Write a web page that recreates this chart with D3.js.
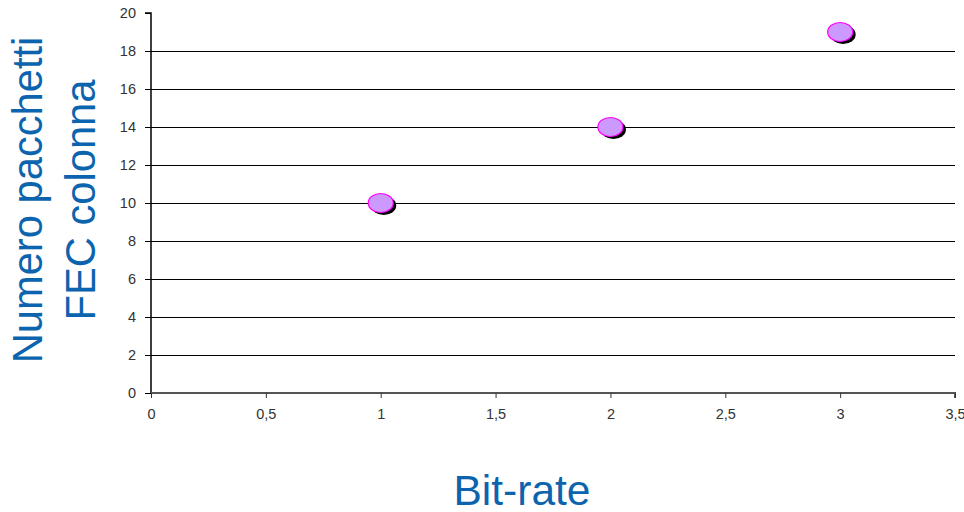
<!DOCTYPE html>
<html><head><meta charset="utf-8">
<script src="https://cdn.jsdelivr.net/npm/d3@7"></script>
<style>body{margin:0;background:#fff;}svg{display:block;}</style>
</head><body>
<svg id="c" width="964" height="512"></svg>
<script>
const bitRate = [1, 2, 3];
const fecPackets = [10, 14, 19];
const xTicks = [0, 0.5, 1, 1.5, 2, 2.5, 3, 3.5];
const yTicks = [0, 2, 4, 6, 8, 10, 12, 14, 16, 18, 20];
const xTitle = "Bit-rate";
const yTitle = ["Numero pacchetti", "FEC colonna"];

const svg = d3.select("#c");
const x = d3.scaleLinear().domain([0, 3.5]).range([151, 955]);
const y = d3.scaleLinear().domain([0, 20]).range([393, 13]);
const fmt = d => String(d).replace(".", ",");

// gridlines
svg.append("g").selectAll("line").data(yTicks.filter(d => d > 0 && d < 20)).join("line")
  .attr("x1", x(0)).attr("x2", x(3.5)).attr("y1", d => y(d) + 0.5).attr("y2", d => y(d) + 0.5)
  .attr("stroke", "#000").attr("stroke-width", 1);

// y axis
const ya = svg.append("g").attr("transform", `translate(${x(0)},0)`)
  .call(d3.axisLeft(y).tickValues(yTicks).tickFormat(fmt).tickSize(6).tickPadding(9));
ya.select(".domain").attr("stroke", "#000").attr("stroke-width", 1.5).attr("d", `M-6,${y(20)}H0V${y(0)}`);
ya.selectAll(".tick line").attr("stroke", "#000");
ya.selectAll("text").attr("font-family", "Liberation Sans, Arial, sans-serif").attr("font-size", 14.5).attr("fill", "#333");

// x axis
const xa = svg.append("g").attr("transform", `translate(0,${y(0)})`)
  .call(d3.axisBottom(x).tickValues(xTicks).tickFormat(fmt).tickSize(5).tickPadding(11));
xa.select(".domain").attr("stroke", "#555").attr("stroke-width", 2).attr("d", `M${x(0)},0H${x(3.5)}V5`);
xa.selectAll(".tick line").attr("stroke", "#333");
xa.selectAll("text").attr("font-family", "Liberation Sans, Arial, sans-serif").attr("font-size", 14.5).attr("fill", "#333");

// points with shadow
const pts = bitRate.map((b, i) => ({b, v: fecPackets[i]}));
svg.append("g").selectAll("ellipse").data(pts).join("ellipse")
  .attr("cx", d => x(d.b) + 3).attr("cy", d => y(d.v) + 2.5).attr("rx", 12.5).attr("ry", 9.5).attr("fill", "#000");
svg.append("g").selectAll("ellipse").data(pts).join("ellipse")
  .attr("cx", d => x(d.b)).attr("cy", d => y(d.v)).attr("rx", 12.5).attr("ry", 9.5)
  .attr("fill", "#cc99ff").attr("stroke", "#ff00ff").attr("stroke-width", 1.2);

// titles
svg.append("text").attr("x", 522).attr("y", 505).attr("text-anchor", "middle")
  .attr("font-family", "Liberation Sans, Arial, sans-serif").attr("font-size", 42.5).attr("fill", "#0d64ae").text(xTitle);
const yt = svg.append("text").attr("transform", "translate(0,200) rotate(-90)")
  .attr("text-anchor", "middle").attr("font-family", "Liberation Sans, Arial, sans-serif").attr("font-size", 41.7).attr("fill", "#0d64ae");
yt.append("tspan").attr("x", 0).attr("y", 42).text(yTitle[0]);
yt.append("tspan").attr("x", 0).attr("y", 95).text(yTitle[1]);
</script>
</body></html>
